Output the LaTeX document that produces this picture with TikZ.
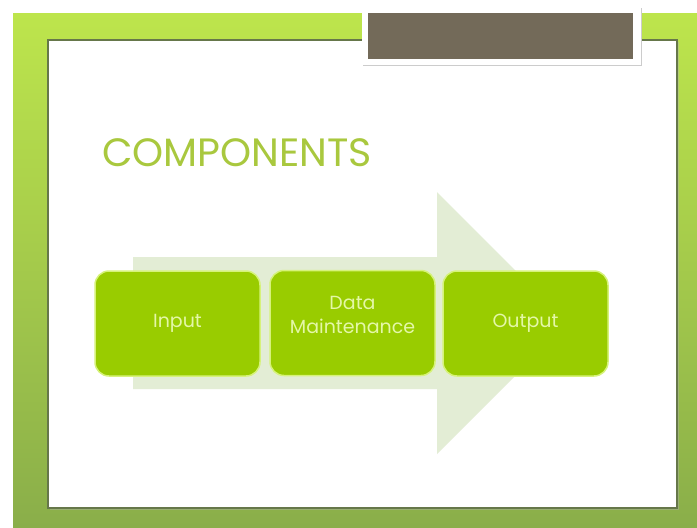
\documentclass[tikz,border=0pt]{standalone}
\usepackage{fontspec}
\setmainfont{Poppins}
\definecolor{frametop}{HTML}{BDE54C}
\definecolor{framebot}{HTML}{8AAE4A}
\definecolor{paneledge}{HTML}{66774A}
\definecolor{brownc}{HTML}{736A59}
\definecolor{arrowc}{HTML}{E3EDD5}
\definecolor{boxgreen}{HTML}{99CC00}
\definecolor{boxedge}{HTML}{D6F27A}
\definecolor{boxtext}{HTML}{E4F7A8}
\definecolor{titlec}{HTML}{A9C83E}
\begin{document}
\begin{tikzpicture}[x=1pt,y=-1pt,
  comp/.style={rounded corners=14pt, fill=boxgreen, draw=boxedge, line width=1.5pt,
    minimum width=165pt, minimum height=105pt, inner sep=0pt, text=boxtext,
    font=\fontsize{19}{24}\selectfont, align=center},
  bigarrow/.style={fill=arrowc}]
\useasboundingbox (0,0) rectangle (697,528);
\fill[white] (0,0) rectangle (697,528);
% green frame
\shade[top color=frametop, bottom color=framebot] (13,13) rectangle (697,528);
% inner panel
\fill[black!30, opacity=0.4] (50,42) rectangle (679,510);
\draw[draw=paneledge, line width=1.5pt, fill=white] (48,40) rectangle (677,508);
% brown tab
\fill[black!20] (363,8) rectangle (642,66);
\fill[white] (362,6) rectangle (641,65);
\fill[brownc] (368,13) rectangle (633,59);
% title
\node[anchor=base west, inner sep=0pt, text=titlec, font=\fontsize{39.5}{44}\selectfont] (title) at (102,166) {COMPONENTS};
% big arrow
\path[bigarrow] (133,257) -- (437,257) -- (437,192) -- (568,323) -- (437,454) -- (437,389) -- (133,389) -- cycle;
% boxes
\node[comp] (input) at (177.5,323.5) {Input};
\node[comp] (data) at (352.5,323) {\raisebox{1.5pt}[0pt][0pt]{\begin{tabular}{@{}c@{}}Data\\[0pt]Maintenance\end{tabular}}};
\node[comp] (output) at (525.5,323.5) {Output};
\end{tikzpicture}
\end{document}
